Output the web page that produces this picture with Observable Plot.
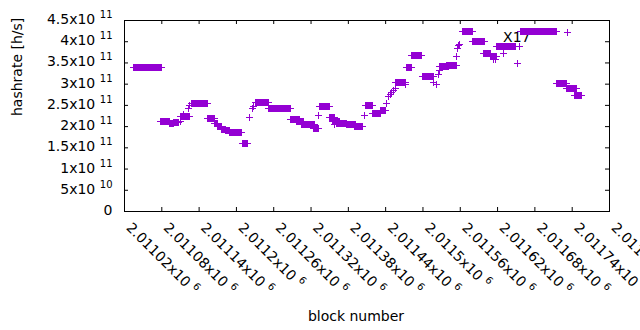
<!DOCTYPE html>
<html>
<head>
<meta charset="utf-8">
<script src="https://cdn.jsdelivr.net/npm/d3@7"></script>
<script src="https://cdn.jsdelivr.net/npm/@observablehq/plot@0.6"></script>
<style>
  html, body { margin: 0; padding: 0; background: #fff; }
</style>
</head>
<body>
<div id="chart"></div>
<script>
// Runs of blocks (start block, end block) sharing one hashrate value; single points have start == end
const segStart = [2011035, 2011079, 2011093, 2011099, 2011111, 2011111, 2011116, 2011123, 2011126, 2011129,
                  2011154, 2011165, 2011170, 2011176, 2011184, 2011190, 2011210, 2011222, 2011226, 2011228,
                  2011231, 2011252, 2011288, 2011298, 2011306, 2011324, 2011332, 2011335, 2011350, 2011356,
                  2011359, 2011367, 2011362, 2011378, 2011391, 2011406, 2011409, 2011420, 2011433, 2011442,
                  2011445, 2011448, 2011450, 2011454, 2011457, 2011457, 2011472, 2011475, 2011483, 2011500,
                  2011517, 2011523, 2011526, 2011528, 2011527, 2011539, 2011555, 2011556, 2011558, 2011560,
                  2011564, 2011580, 2011598, 2011609, 2011614, 2011618, 2011619, 2011630, 2011632, 2011653,
                  2011656, 2011658, 2011715, 2011731, 2011745];
const segEnd   = [2011081, 2011093, 2011099, 2011108, 2011111, 2011125, 2011116, 2011123, 2011126, 2011155,
                  2011166, 2011170, 2011176, 2011184, 2011190, 2011209, 2011218, 2011222, 2011226, 2011228,
                  2011253, 2011288, 2011302, 2011308, 2011327, 2011332, 2011332, 2011350, 2011359, 2011366,
                  2011359, 2011367, 2011378, 2011393, 2011404, 2011406, 2011420, 2011432, 2011441, 2011442,
                  2011445, 2011448, 2011450, 2011454, 2011457, 2011472, 2011472, 2011483, 2011499, 2011517,
                  2011517, 2011523, 2011526, 2011528, 2011542, 2011554, 2011555, 2011556, 2011558, 2011560,
                  2011581, 2011599, 2011609, 2011619, 2011614, 2011618, 2011630, 2011630, 2011650, 2011653,
                  2011656, 2011716, 2011731, 2011747, 2011756];
const segRate  = [3.38e11, 2.10e11, 2.05e11, 2.09e11, 2.12e11, 2.22e11, 2.27e11, 2.42e11, 2.48e11, 2.54e11,
                  2.18e11, 2.05e11, 2.00e11, 1.93e11, 1.89e11, 1.85e11, 1.59e11, 2.21e11, 2.41e11, 2.47e11,
                  2.56e11, 2.42e11, 2.16e11, 2.10e11, 2.03e11, 1.95e11, 2.24e11, 2.47e11, 2.21e11, 2.10e11,
                  2.03e11, 2.08e11, 2.07e11, 2.03e11, 2.00e11, 2.26e11, 2.49e11, 2.30e11, 2.37e11, 2.54e11,
                  2.69e11, 2.75e11, 2.79e11, 2.85e11, 2.89e11, 3.03e11, 2.97e11, 3.39e11, 3.66e11, 3.16e11,
                  3.02e11, 2.97e11, 3.22e11, 3.30e11, 3.41e11, 3.43e11, 3.65e11, 3.83e11, 3.89e11, 3.93e11,
                  4.23e11, 4.00e11, 3.72e11, 3.64e11, 3.57e11, 3.58e11, 3.88e11, 3.72e11, 3.88e11, 3.48e11,
                  3.87e11, 4.23e11, 3.01e11, 2.89e11, 2.73e11];

const xDomain = [2011020, 2011800];
const yDomain = [0, 4.5e11];
const xTicks = [2011020, 2011080, 2011140, 2011200, 2011260, 2011320, 2011380,
                2011440, 2011500, 2011560, 2011620, 2011680, 2011740, 2011800];
const xTickLabels = ["2.01102x10^6", "2.01108x10^6", "2.01114x10^6", "2.0112x10^6", "2.01126x10^6",
                     "2.01132x10^6", "2.01138x10^6", "2.01144x10^6", "2.0115x10^6", "2.01156x10^6",
                     "2.01162x10^6", "2.01168x10^6", "2.01174x10^6", "2.0118x10^6"];
const yTicks = [0, 5e10, 1e11, 1.5e11, 2e11, 2.5e11, 3e11, 3.5e11, 4e11, 4.5e11];
const yTickLabels = ["0", "5x10^10", "1x10^11", "1.5x10^11", "2x10^11", "2.5x10^11",
                     "3x10^11", "3.5x10^11", "4x10^11", "4.5x10^11"];
const seriesName = "X17";
const xTitle = "block number";
const yTitle = "hashrate [h/s]";

const segs = segStart.map((s, i) => ({s, e: segEnd[i], r: segRate[i]}));
const purple = "#9400d3";

// gnuplot-style "+" point symbol (stroke only)
const plusSymbol = {
  draw(context) {
    const r = 3.5;
    context.moveTo(-r, 0); context.lineTo(r, 0);
    context.moveTo(0, -r); context.lineTo(0, r);
  }
};

const chart = Plot.plot({
  width: 640,
  height: 330,
  marginLeft: 124,
  marginRight: 31,
  marginTop: 20,
  marginBottom: 119,
  style: {fontFamily: "'DejaVu Sans', sans-serif", fontSize: "14px", background: "#fff", color: "#000", overflow: "visible"},
  x: {domain: xDomain, axis: null},
  y: {domain: yDomain, axis: null},
  marks: [
    // key
    Plot.text([seriesName], {frameAnchor: "top-right", textAnchor: "end", dx: -79, dy: 12, fill: "#000"}),
    Plot.dot([seriesName], {frameAnchor: "top-right", symbol: plusSymbol, fill: "none", stroke: purple, strokeWidth: 1, dx: -42, dy: 12}),
    // data: vertical arms of the "+" points (merged into a block for runs)
    Plot.rect(segs, {x1: "s", x2: "e", y1: "r", y2: "r", fill: purple,
      insetTop: -3.5, insetBottom: -3.5, insetLeft: -0.5, insetRight: -0.5, shapeRendering: "crispEdges"}),
    // data: horizontal arms
    Plot.rect(segs, {x1: "s", x2: "e", y1: "r", y2: "r", fill: purple,
      insetTop: -0.5, insetBottom: -0.5, insetLeft: -3.5, insetRight: -3.5, shapeRendering: "crispEdges"}),
    // frame and inward ticks (mirrored)
    Plot.frame({stroke: "#000", strokeWidth: 1}),
    Plot.ruleY(yTicks, {y: d => d, x1: xDomain[0], x2: xDomain[0], insetRight: -4, stroke: "#000"}),
    Plot.ruleY(yTicks, {y: d => d, x1: xDomain[1], x2: xDomain[1], insetLeft: -4, stroke: "#000"}),
    Plot.ruleX(xTicks, {x: d => d, y1: yDomain[0], y2: yDomain[0], insetTop: -4, stroke: "#000"}),
    Plot.ruleX(xTicks, {x: d => d, y1: yDomain[1], y2: yDomain[1], insetBottom: -4, stroke: "#000"}),
    // tick labels
    Plot.text(yTicks, {y: d => d, text: (d, i) => yTickLabels[i], frameAnchor: "left", textAnchor: "end", dx: -12, dy: -1}),
    Plot.text(xTicks, {x: d => d, text: (d, i) => xTickLabels[i], frameAnchor: "bottom", textAnchor: "start",
      lineAnchor: "bottom", rotate: 45, dx: 1, dy: 17}),
    // axis titles
    Plot.text([yTitle], {frameAnchor: "left", rotate: -90, dx: -107}),
    Plot.text([xTitle], {frameAnchor: "bottom", lineAnchor: "bottom", dx: -11, dy: 109})
  ]
});

// turn "mantissa x10^exp" into real superscript text
chart.querySelectorAll("text, tspan").forEach(el => {
  if (el.childNodes.length === 1 && el.firstChild.nodeType === 3 && el.textContent.includes("^")) {
    const [base, exp] = el.textContent.split("^");
    el.textContent = base;
    const sup = document.createElementNS("http://www.w3.org/2000/svg", "tspan");
    sup.setAttribute("dx", "4.5");
    sup.setAttribute("dy", "-6");
    sup.setAttribute("font-size", "10px");
    sup.textContent = exp;
    el.appendChild(sup);
  }
});

document.getElementById("chart").appendChild(chart);
</script>
</body>
</html>
